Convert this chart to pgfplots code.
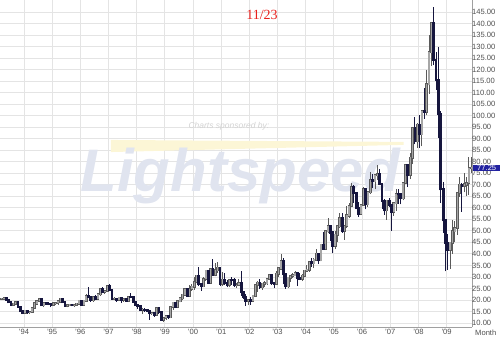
\documentclass[border=0pt]{standalone}
\usepackage{pgfplots}
\usepackage{pgfplotstable}
\pgfplotsset{compat=1.18}
\usepackage{fontspec}
\setmainfont{Liberation Sans}
\newfontfamily\seriffont{Liberation Serif}
\definecolor{gridc}{HTML}{E4E4E4}
\definecolor{axc}{HTML}{A0A0A0}
\definecolor{tickc}{HTML}{505050}
\definecolor{upc}{HTML}{808080}
\definecolor{upw}{HTML}{5A5A5A}
\definecolor{dnc}{HTML}{16163E}
\definecolor{wmblue}{HTML}{E0E4EF}
\definecolor{wmyel}{HTML}{FCF6D6}
\definecolor{wmgray}{HTML}{D2D2D2}
\definecolor{titlered}{HTML}{E8201C}
\definecolor{lastbox}{HTML}{2222A0}
\pgfplotstableread{
Y M O H L C
1993 3 20.40 20.95 19.95 20.44
1993 4 20.44 21.10 20.00 20.53
1993 5 20.53 20.75 19.60 19.94
1993 6 19.94 20.10 18.60 18.81
1993 7 18.81 19.00 17.30 17.67
1993 8 17.67 18.50 17.40 18.21
1993 9 18.21 18.90 17.60 18.74
1993 10 18.74 19.20 16.80 16.92
1993 11 16.92 17.10 14.90 15.07
1993 12 15.07 15.20 13.90 14.17
1994 1 14.17 15.80 13.95 15.19
1994 2 15.19 15.40 14.10 14.48
1994 3 14.48 15.00 14.00 14.66
1994 4 14.66 16.80 14.40 16.38
1994 5 16.38 18.50 16.20 18.31
1994 6 18.31 19.80 17.90 19.37
1994 7 19.37 20.90 18.90 20.30
1994 8 20.30 20.40 17.30 17.56
1994 9 17.56 18.60 16.90 18.39
1994 10 18.39 18.90 17.90 18.19
1994 11 18.19 18.90 17.60 18.05
1994 12 18.05 18.20 16.80 17.76
1995 1 17.76 18.80 17.40 18.39
1995 2 18.39 18.90 17.90 18.49
1995 3 18.49 19.30 17.80 19.17
1995 4 19.17 20.70 19.00 20.38
1995 5 20.38 20.70 18.60 18.89
1995 6 18.89 19.10 17.20 17.40
1995 7 17.40 17.90 16.80 17.56
1995 8 17.56 18.20 17.20 17.84
1995 9 17.84 18.10 17.30 17.54
1995 10 17.54 17.90 17.10 17.64
1995 11 17.64 18.40 17.50 18.18
1995 12 18.18 19.80 18.00 19.55
1996 1 19.55 19.90 17.40 17.74
1996 2 17.74 19.80 17.60 19.54
1996 3 19.54 22.50 19.40 21.47
1996 4 21.47 25.80 20.80 21.20
1996 5 21.20 21.70 19.20 19.76
1996 6 19.76 21.00 19.30 20.92
1996 7 20.92 22.10 20.00 20.42
1996 8 20.42 22.50 20.30 22.25
1996 9 22.25 24.80 21.90 24.38
1996 10 24.38 25.80 23.00 23.35
1996 11 23.35 24.30 22.50 23.75
1996 12 23.75 26.40 23.50 25.92
1997 1 25.92 26.80 23.70 24.15
1997 2 24.15 24.30 20.20 20.30
1997 3 20.30 21.40 19.80 20.41
1997 4 20.41 20.60 19.20 19.81
1997 5 19.81 21.40 19.60 20.88
1997 6 20.88 21.00 18.60 19.80
1997 7 19.80 20.70 19.20 20.14
1997 8 20.14 20.50 19.40 19.61
1997 9 19.61 21.30 19.30 21.18
1997 10 21.18 23.00 20.80 21.08
1997 11 21.08 21.30 19.00 19.15
1997 12 19.15 19.40 17.50 17.64
1998 1 17.64 18.00 16.20 17.21
1998 2 17.21 17.30 15.40 15.44
1998 3 15.44 16.50 13.80 15.61
1998 4 15.61 16.40 14.80 15.39
1998 5 15.39 15.80 14.60 15.20
1998 6 15.20 15.30 11.40 14.18
1998 7 14.18 14.80 13.40 14.21
1998 8 14.21 14.30 12.80 13.36
1998 9 13.36 16.80 13.20 16.14
1998 10 16.14 16.50 13.90 14.42
1998 11 14.42 14.70 11.00 11.22
1998 12 11.22 12.80 10.40 12.05
1999 1 12.05 13.20 11.50 12.75
1999 2 12.75 13.00 11.70 12.27
1999 3 12.27 16.90 12.10 16.76
1999 4 16.76 19.20 15.80 18.66
1999 5 18.66 19.10 16.40 16.84
1999 6 16.84 19.50 16.60 19.29
1999 7 19.29 20.90 19.00 20.53
1999 8 20.53 22.40 19.80 22.10
1999 9 22.10 25.30 21.80 24.51
1999 10 24.51 24.80 21.60 21.75
1999 11 21.75 26.30 21.50 24.59
1999 12 24.59 27.10 24.00 25.60
2000 1 25.60 30.10 24.50 27.64
2000 2 27.64 31.00 27.20 30.43
2000 3 30.43 34.40 26.00 26.90
2000 4 26.90 27.50 23.90 25.74
2000 5 25.74 30.00 25.50 29.01
2000 6 29.01 33.00 28.40 32.50
2000 7 32.50 32.80 27.20 27.43
2000 8 27.43 33.50 27.00 33.12
2000 9 33.12 37.80 31.50 30.84
2000 10 30.84 35.90 30.20 32.70
2000 11 32.70 36.50 31.80 33.82
2000 12 33.82 34.10 25.90 26.80
2001 1 26.80 32.20 26.00 28.66
2001 2 28.66 31.80 26.50 27.39
2001 3 27.39 28.60 25.50 26.29
2001 4 26.29 29.00 25.50 28.46
2001 5 28.46 29.80 26.50 28.37
2001 6 28.37 29.40 25.60 26.25
2001 7 26.25 27.30 25.30 26.35
2001 8 26.35 29.10 26.10 27.20
2001 9 27.20 32.50 21.80 23.43
2001 10 23.43 23.90 20.40 21.18
2001 11 21.18 22.60 17.50 19.44
2001 12 19.44 20.10 17.80 19.84
2002 1 19.84 21.20 17.90 19.48
2002 2 19.48 21.90 19.30 21.74
2002 3 21.74 26.40 21.50 26.31
2002 4 26.31 28.40 23.50 27.29
2002 5 27.29 29.10 24.90 25.31
2002 6 25.31 27.00 24.50 26.86
2002 7 26.86 28.20 25.80 27.02
2002 8 27.02 29.30 26.60 28.98
2002 9 28.98 31.00 28.60 30.45
2002 10 30.45 30.90 26.50 27.22
2002 11 27.22 28.00 25.00 26.89
2002 12 26.89 32.70 26.40 31.20
2003 1 31.20 34.40 30.00 33.51
2003 2 33.51 39.90 33.00 36.60
2003 3 36.60 38.10 26.80 31.04
2003 4 31.04 31.20 24.90 25.80
2003 5 25.80 29.90 25.00 29.56
2003 6 29.56 31.00 28.00 30.19
2003 7 30.19 31.50 29.50 30.54
2003 8 30.54 32.40 30.20 31.57
2003 9 31.57 31.90 26.00 29.20
2003 10 29.20 31.60 28.60 29.11
2003 11 29.11 31.10 28.20 30.41
2003 12 30.41 33.00 29.90 32.52
2004 1 32.52 35.20 32.10 33.05
2004 2 33.05 36.40 32.20 36.16
2004 3 36.16 38.40 34.50 35.76
2004 4 35.76 38.00 33.80 37.38
2004 5 37.38 42.30 37.00 39.88
2004 6 39.88 40.00 35.70 37.05
2004 7 37.05 43.90 36.90 43.80
2004 8 43.80 49.40 42.00 42.12
2004 9 42.12 50.20 41.80 49.64
2004 10 49.64 55.70 48.90 51.76
2004 11 51.76 51.90 45.50 49.13
2004 12 49.13 49.50 40.25 43.45
2005 1 43.45 49.80 42.10 48.20
2005 2 48.20 52.00 45.10 51.75
2005 3 51.75 57.70 51.20 55.40
2005 4 55.40 57.70 49.20 49.72
2005 5 49.72 52.30 46.20 51.97
2005 6 51.97 60.95 51.40 56.50
2005 7 56.50 62.30 55.60 60.57
2005 8 60.57 70.85 60.40 68.94
2005 9 68.94 70.00 62.20 66.24
2005 10 66.24 66.90 59.40 59.76
2005 11 59.76 62.40 56.20 57.32
2005 12 57.32 61.50 57.20 61.04
2006 1 61.04 69.20 60.70 67.92
2006 2 67.92 68.30 59.30 61.41
2006 3 61.41 67.10 60.50 66.63
2006 4 66.63 75.35 65.90 71.88
2006 5 71.88 74.60 68.50 71.29
2006 6 71.29 74.10 68.00 73.93
2006 7 73.93 78.40 72.00 74.40
2006 8 74.40 77.00 69.80 70.26
2006 9 70.26 70.60 59.50 62.91
2006 10 62.91 63.90 57.00 58.73
2006 11 58.73 63.20 54.90 62.97
2006 12 62.97 64.30 60.20 61.05
2007 1 61.05 61.10 49.90 58.14
2007 2 58.14 62.40 56.50 61.79
2007 3 61.79 68.10 58.80 65.87
2007 4 65.87 68.20 61.80 65.71
2007 5 65.71 66.60 61.50 64.01
2007 6 64.01 70.70 63.20 70.68
2007 7 70.68 78.80 70.20 78.21
2007 8 78.21 78.30 69.00 74.04
2007 9 74.04 83.90 72.40 81.66
2007 10 81.66 94.80 79.00 94.53
2007 11 94.53 99.30 87.50 88.71
2007 12 88.71 97.00 86.00 95.98
2008 1 95.98 100.10 86.10 91.75
2008 2 91.75 102.10 86.70 101.84
2008 3 101.84 111.80 98.70 101.58
2008 4 101.58 119.90 100.10 113.46
2008 5 113.46 135.10 109.50 127.35
2008 6 127.35 140.40 121.60 140.00
2008 7 140.00 147.27 121.80 124.08
2008 8 124.08 127.70 111.30 115.46
2008 9 115.46 130.00 90.50 100.64
2008 10 100.64 102.20 62.10 67.81
2008 11 67.81 71.20 49.00 54.43
2008 12 54.43 54.70 32.40 44.60
2009 1 44.60 48.60 33.20 41.68
2009 2 41.68 45.10 33.55 44.76
2009 3 44.76 54.70 40.00 49.66
2009 4 49.66 54.40 45.00 51.12
2009 5 51.12 66.50 48.30 66.31
2009 6 66.31 73.40 64.80 69.89
2009 7 69.89 70.70 58.30 69.45
2009 8 69.45 75.00 66.70 69.96
2009 9 69.96 73.40 65.10 70.61
2009 10 70.61 82.00 65.60 77.00
2009 11 77.00 82.00 75.00 77.25
}\oil
\pgfplotsset{candle/.style={draw=none, no markers, forget plot}}
\begin{document}
\begin{tikzpicture}
\useasboundingbox (0,0) rectangle (500bp,340bp);
\begin{axis}[
  at={(0bp,13bp)}, anchor=south west,
  width=472bp, height=327bp, scale only axis,
  xmin=1993.15, xmax=2009.9, ymin=8.26, ymax=150.2,
  axis x line*=bottom, axis y line*=right,
  axis line style={draw=axc, line width=0.8bp, -},
  grid=major, major grid style={draw=gridc, line width=0.8bp},
  major tick length=0pt,
  xtick={1994,...,2009},
  xticklabels={'94,'95,'96,'97,'98,'99,'00,'01,'02,'03,'04,'05,'06,'07,'08,'09},
  ytick={10,15,...,145},
  /pgf/number format/assume math mode=true,
  yticklabel={\pgfmathprintnumber[fixed,fixed zerofill,precision=2]{\tick}},
  yticklabel style={anchor=west, xshift=-1bp, inner sep=1bp},
  xticklabel style={inner sep=1.5bp},
  tick label style={font=\fontsize{7.6bp}{8bp}\selectfont, text=tickc},
  clip=true,
]
% watermark
\fill[wmyel] (rel axis cs:0.235,0.572) -- (rel axis cs:0.855,0.566) -- (rel axis cs:0.855,0.557) -- (rel axis cs:0.235,0.535) -- cycle;
\node[anchor=base west, inner sep=0pt, text=wmblue, font=\fontsize{60bp}{61bp}\selectfont\bfseries\itshape] at (rel axis cs:0.170,0.415) {Lightspeed};
\node[inner sep=0pt, text=wmgray, font=\fontsize{8.5bp}{9bp}\selectfont\itshape] at (rel axis cs:0.485,0.615) {Charts sponsored by:};
% up candles
\addplot[candle,
  restrict expr to domain={\thisrow{C}-\thisrow{O}}{0:1000},
  error bars/.cd, y dir=plus, y explicit, error mark=none,
  error bar style={draw=upw, line width=1bp}]
  table[x expr=\thisrow{Y}+(\thisrow{M}-0.5)/12, y=L, y error expr=\thisrow{H}-\thisrow{L}] {\oil};
\addplot[candle,
  restrict expr to domain={\thisrow{C}-\thisrow{O}}{0:1000},
  error bars/.cd, y dir=plus, y explicit, error mark=none,
  error bar style={draw=upw, line width=2.8bp, line cap=butt}]
  table[x expr=\thisrow{Y}+(\thisrow{M}-0.5)/12, y expr=\thisrow{O}-0.3, y error expr=\thisrow{C}-\thisrow{O}+0.9] {\oil};
\addplot[candle,
  restrict expr to domain={\thisrow{C}-\thisrow{O}}{0:1000},
  error bars/.cd, y dir=plus, y explicit, error mark=none,
  error bar style={draw=upc!70!white, line width=1.4bp, line cap=butt}]
  table[x expr=\thisrow{Y}+(\thisrow{M}-0.5)/12, y=O, y error expr=\thisrow{C}-\thisrow{O}+0.3] {\oil};
% down candles
\addplot[candle,
  restrict expr to domain={\thisrow{C}-\thisrow{O}}{-1000:-0.0001},
  error bars/.cd, y dir=plus, y explicit, error mark=none,
  error bar style={draw=dnc, line width=1bp}]
  table[x expr=\thisrow{Y}+(\thisrow{M}-0.5)/12, y=L, y error expr=\thisrow{H}-\thisrow{L}] {\oil};
\addplot[candle,
  restrict expr to domain={\thisrow{C}-\thisrow{O}}{-1000:-0.0001},
  error bars/.cd, y dir=plus, y explicit, error mark=none,
  error bar style={draw=dnc, line width=2.8bp, line cap=butt}]
  table[x expr=\thisrow{Y}+(\thisrow{M}-0.5)/12, y expr=\thisrow{C}-0.3, y error expr=\thisrow{O}-\thisrow{C}+0.9] {\oil};
\end{axis}
\node[text=titlered, font=\seriffont\fontsize{14bp}{15bp}\selectfont] at (262bp,325bp) {11/23};
\node[anchor=west, inner sep=0pt, text=tickc, font=\fontsize{7.6bp}{8bp}\selectfont] at (475bp,7bp) {Month};
\node[anchor=west, fill=lastbox, text=white, inner xsep=1.5bp, inner ysep=0.8bp, minimum width=28bp, font=\fontsize{7.6bp}{8bp}\selectfont] at (472.5bp,172bp) {77.25};
\end{tikzpicture}
\end{document}
